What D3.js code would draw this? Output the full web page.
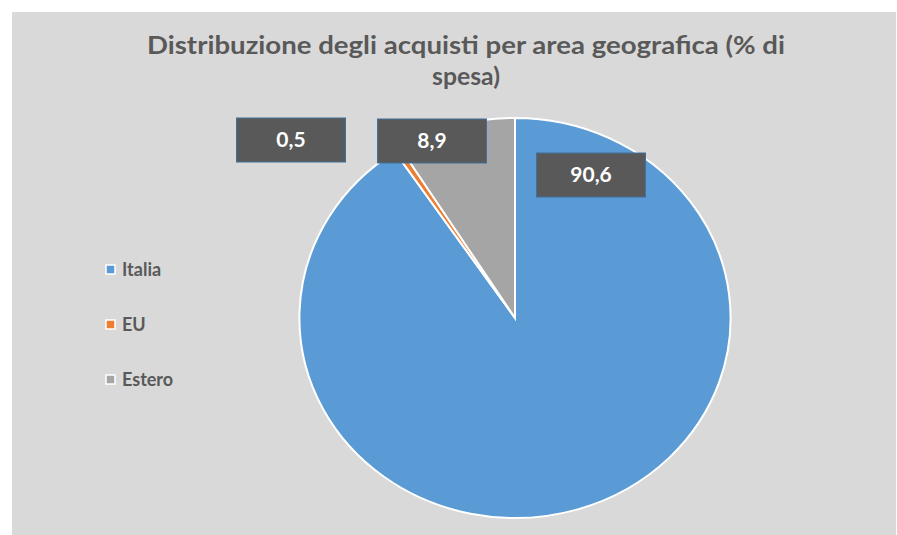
<!DOCTYPE html>
<html>
<head>
<meta charset="utf-8">
<script src="https://cdn.jsdelivr.net/npm/d3@7"></script>
<style>
  body { margin: 0; background: #ffffff; overflow: hidden; }
  svg { display: block; }
  text { font-family: Lato, "Open Sans", sans-serif; }
</style>
</head>
<body>
<div id="chart"></div>
<script>
const categories = ["Italia", "EU", "Estero"];
const values = [90.6, 0.5, 8.9];
const valueLabels = ["90,6", "0,5", "8,9"];
const colors = ["#5b9bd5", "#ed7d31", "#a5a5a5"];
const titleLines = ["Distribuzione degli acquisti per area geografica (% di", "spesa)"];

const width = 897;
const height = 535;

const svg = d3
  .select("#chart")
  .append("svg")
  .attr("width", width)
  .attr("height", height);

// chart area background
svg
  .append("rect")
  .attr("x", 12)
  .attr("y", 12)
  .attr("width", 884)
  .attr("height", 530)
  .attr("fill", "#d9d9d9");

// Title
svg
  .selectAll(".title")
  .data(titleLines)
  .enter()
  .append("text")
  .attr("class", "title")
  .attr("x", 466)
  .attr("y", (d, i) => 54 + i * 31)
  .attr("text-anchor", "middle")
  .attr("font-size", "25px")
  .attr("font-weight", "bold")
  .attr("fill", "#595959")
  .attr("textLength", (d, i) => (i === 0 ? 638 : 68))
  .attr("lengthAdjust", "spacingAndGlyphs")
  .text((d) => d);

// Pie (image is slightly stretched horizontally)
const cx = 515;
const cy = 318;
const radius = 200;
const stretch = 1.078;

const pie = d3.pie().sort(null).value((d) => d.value);
const arc = d3.arc().innerRadius(0).outerRadius(radius);

const data = categories.map((c, i) => ({ name: c, value: values[i], label: valueLabels[i], color: colors[i] }));

const g = svg
  .append("g")
  .attr("transform", `translate(${cx},${cy}) scale(${stretch},1)`);

g.selectAll("path")
  .data(pie(data))
  .enter()
  .append("path")
  .attr("d", arc)
  .attr("fill", (d) => d.data.color)
  .attr("stroke", "#ffffff")
  .attr("stroke-width", 2)
  .attr("vector-effect", "non-scaling-stroke");

// Data labels (moved by hand in the original, so placed explicitly)
const labelPos = { Italia: [591, 175], EU: [291, 140], Estero: [432, 141] };
const boxW = 109;
const boxH = 44;

const labels = svg
  .selectAll(".lbl")
  .data(data)
  .enter()
  .append("g")
  .attr("class", "lbl")
  .attr("transform", (d) => `translate(${labelPos[d.name][0]},${labelPos[d.name][1]})`);

labels
  .append("rect")
  .attr("x", -boxW / 2)
  .attr("y", -boxH / 2)
  .attr("width", boxW)
  .attr("height", boxH)
  .attr("fill", "#595959")
  .attr("stroke", "#41719c")
  .attr("stroke-width", 1);

labels
  .append("text")
  .attr("y", 7)
  .attr("text-anchor", "middle")
  .attr("font-size", "21px")
  .attr("font-weight", "bold")
  .attr("fill", "#ffffff")
  .text((d) => d.label);

// Legend
const legend = svg
  .selectAll(".legend")
  .data(data)
  .enter()
  .append("g")
  .attr("class", "legend")
  .attr("transform", (d, i) => `translate(106,${270 + i * 55})`);

legend
  .append("rect")
  .attr("x", 0)
  .attr("y", -5)
  .attr("width", 9)
  .attr("height", 9)
  .attr("fill", (d) => d.color)
  .attr("stroke", "#ffffff")
  .attr("stroke-width", 1.5);

legend
  .append("text")
  .attr("x", 16)
  .attr("y", 6)
  .attr("font-size", "18px")
  .attr("font-weight", "bold")
  .attr("fill", "#595959")
  .text((d) => d.name);
</script>
</body>
</html>
